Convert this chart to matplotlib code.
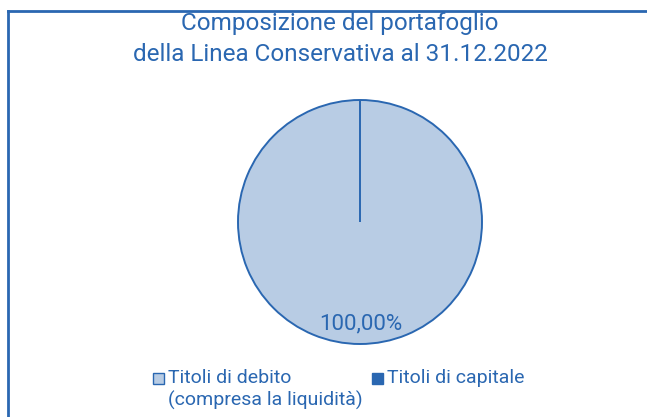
import matplotlib.pyplot as plt
from matplotlib.lines import Line2D

categories = ["Titoli di debito\n(compresa la liquidità)", "Titoli di capitale"]
values = [100.0, 0.0]
colors = ["#b8cce4", "#2a67b1"]
edge = "#2a67b1"
title = "Composizione del portafoglio\ndella Linea Conservativa al 31.12.2022"

plt.rcParams['font.family'] = ['Roboto', 'DejaVu Sans']

W, H = 647, 417
fig = plt.figure(figsize=(W / 100, H / 100), dpi=100)

# frame line (top and left only visible)
fig.add_artist(Line2D([8 / W, 8 / W], [0, 1 - 11 / H], transform=fig.transFigure, color=edge, lw=2))
fig.add_artist(Line2D([8 / W, 1], [1 - 11 / H, 1 - 11 / H], transform=fig.transFigure, color=edge, lw=2))

fig.text(340 / W, 1 - 39 / H, title, ha="center", va="center", color=edge,
         fontsize=17.5, linespacing=1.45)

# pie centre ~ (360, 222), radius ~ 122 px
r = 122
ax = fig.add_axes([(360 - r) / W, 1 - (222 + r) / H, 2 * r / W, 2 * r / H])
ax.pie(values, colors=colors, startangle=90, counterclock=False,
       wedgeprops=dict(edgecolor=edge, linewidth=1.4))
ax.set_xlim(-1, 1)
ax.set_ylim(-1, 1)
ax.set_aspect("equal")
ax.axis("off")

fig.text(361 / W, 1 - 324 / H, f"{values[0]:.2f}%".replace(".", ","), ha="center", va="center",
         color=edge, fontsize=16)

# legend
legend_x = [158, 377]
for x, lab, c in zip(legend_x, categories, colors):
    fig.add_artist(plt.Rectangle(((x - 5) / W, 1 - 384 / H), 11 / W, 11 / H,
                                 transform=fig.transFigure, facecolor=c, edgecolor=edge, lw=1))
    fig.text((x + 10) / W, 1 - 369 / H, lab, ha="left", va="top", color=edge,
             fontsize=14, linespacing=1.25)

fig.savefig("out.png", dpi=100)
